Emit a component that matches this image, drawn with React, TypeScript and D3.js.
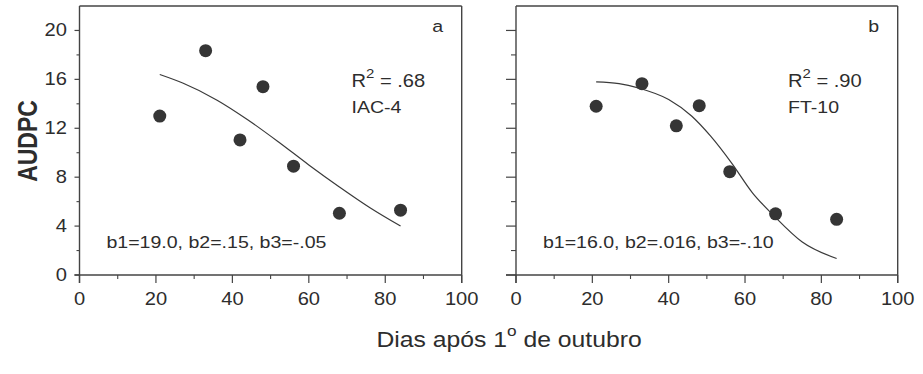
import * as d3 from "d3";

// observed AUDPC, days after 1st October
const days = [21, 33, 42, 48, 56, 68, 84];
const iacAudpc = [13.0, 18.35, 11.05, 15.4, 8.9, 5.05, 5.3];
const ftAudpc = [13.8, 15.65, 12.2, 13.85, 8.45, 5.0, 4.55];

// fitted curves
const iacFitDays = [21, 27, 36, 44, 52, 60, 68, 76, 84];
const iacFit = [16.4, 15.7, 14.3, 12.7, 10.9, 9.0, 7.2, 5.5, 4.0];
const ftFitDays = [21, 27, 32, 40, 46, 51, 56.5, 62, 67.4, 75, 84];
const ftFit = [15.8, 15.65, 15.3, 14.35, 13.0, 11.35, 9.15, 6.7, 4.9, 2.7, 1.35];

const xTicks = [0, 20, 40, 60, 80, 100];
const xMinor = [10, 30, 50, 70, 90];
const yTicks = [0, 4, 8, 12, 16, 20];
const yMinor = [2, 6, 10, 14, 18];

const FONT = "'Liberation Sans', Arial, sans-serif";
const INK = "#2d2d2d";
const AX = "#444";
const SX = 1.15;

const y = d3.scaleLinear().domain([0, 22]).range([275, 6]);

function T(props: any) {
  const { x, y: yy, size, anchor, children, weight } = props;
  return (
    <g transform={`translate(${x},${yy}) scale(${SX},1)`}>
      <text
        x={0}
        y={0}
        fontSize={size}
        fontFamily={FONT}
        fontWeight={weight || "normal"}
        textAnchor={anchor || "start"}
        fill={INK}
      >
        {children}
      </text>
    </g>
  );
}

function Panel(props: any) {
  const { left, right, letter, r2, cultivar, params, obs, fitX, fitY, yLabels, yMaj, yMin } = props;
  const x = d3.scaleLinear().domain([0, 100]).range([left, right]);
  const y0 = y(0);
  const top = y(22);
  const line = d3
    .line<number>()
    .x((d, i) => x(fitX[i]))
    .y((d) => y(d))
    .curve(d3.curveMonotoneX);

  return (
    <g>
      {/* frame */}
      <line x1={left - yMaj} x2={right} y1={y0} y2={y0} stroke={AX} strokeWidth={1.4} />
      <line x1={left} x2={left} y1={top} y2={y0 + 8} stroke={AX} strokeWidth={1.4} />
      <line x1={left} x2={right} y1={top} y2={top} stroke={AX} strokeWidth={1.4} />
      <line x1={right} x2={right} y1={top} y2={y0 + 8} stroke={AX} strokeWidth={1.4} />

      {xTicks.map((t) => (
        <line key={"xt" + t} x1={x(t)} x2={x(t)} y1={y0} y2={y0 + 8} stroke={AX} strokeWidth={1.2} />
      ))}
      {xMinor.map((t) => (
        <line key={"xm" + t} x1={x(t)} x2={x(t)} y1={y0} y2={y0 + 4} stroke={AX} strokeWidth={1.1} />
      ))}
      {yTicks.map((t) => (
        <line key={"yt" + t} x1={left - yMaj} x2={left} y1={y(t)} y2={y(t)} stroke={AX} strokeWidth={1.2} />
      ))}
      {yMinor.map((t) => (
        <line key={"ym" + t} x1={left - yMin} x2={left} y1={y(t)} y2={y(t)} stroke={AX} strokeWidth={1.1} />
      ))}

      {xTicks.map((t) => (
        <T key={"xl" + t} x={x(t)} y={305} size={17.5} anchor="middle">
          {t}
        </T>
      ))}
      {yLabels &&
        yTicks.map((t) => (
          <T key={"yl" + t} x={67} y={y(t) + 6} size={17.5} anchor="end">
            {t}
          </T>
        ))}

      <path d={line(fitY) || ""} fill="none" stroke="#3a3a3a" strokeWidth={1.2} />

      {days.map((d, i) => (
        <circle key={"p" + d} cx={x(d)} cy={y(obs[i])} r={6.5} fill="#353535" />
      ))}

      <T x={right - 24} y={32} size={17} anchor="middle">
        {letter}
      </T>
      <g transform={`translate(${left + 272},86.5) scale(${SX},1)`}>
        <text x={0} y={0} fontSize={17.5} fontFamily={FONT} fill={INK}>
          R
          <tspan dy={-9} fontSize={13}>
            2
          </tspan>
          <tspan dy={9}>{" = " + r2}</tspan>
        </text>
      </g>
      <T x={left + 272} y={112.5} size={17}>
        {cultivar}
      </T>
      <T x={left + 27} y={247.5} size={17}>
        {params}
      </T>
    </g>
  );
}

export default function App() {
  return (
    <svg
      width={923}
      height={374}
      style={{ position: "absolute", left: 0, top: 0, background: "#fff" }}
    >
      <rect x={0} y={0} width={923} height={374} fill="#fff" />
      <Panel
        left={79.5}
        right={461.7}
        letter="a"
        r2=".68"
        cultivar="IAC-4"
        params="b1=19.0, b2=.15, b3=-.05"
        obs={iacAudpc}
        fitX={iacFitDays}
        fitY={iacFit}
        yLabels={true}
        yMaj={5}
        yMin={3}
      />
      <Panel
        left={516}
        right={897.7}
        letter="b"
        r2=".90"
        cultivar="FT-10"
        params="b1=16.0, b2=.016, b3=-.10"
        obs={ftAudpc}
        fitX={ftFitDays}
        fitY={ftFit}
        yLabels={false}
        yMaj={10}
        yMin={5}
      />

      <g transform="translate(36.5,141) rotate(-90) scale(1,1.2)">
        <text x={0} y={0} fontSize={23} fontWeight="bold" fontFamily={FONT} textAnchor="middle" fill={INK}>
          AUDPC
        </text>
      </g>

      <g transform={`translate(376.5,346.5) scale(${SX},1)`}>
        <text x={0} y={0} fontSize={21.5} fontFamily={FONT} fill={INK}>
          Dias após 1
          <tspan dy={-11} fontSize={15}>
            o
          </tspan>
          <tspan dy={11}>{" de outubro"}</tspan>
        </text>
      </g>
    </svg>
  );
}
